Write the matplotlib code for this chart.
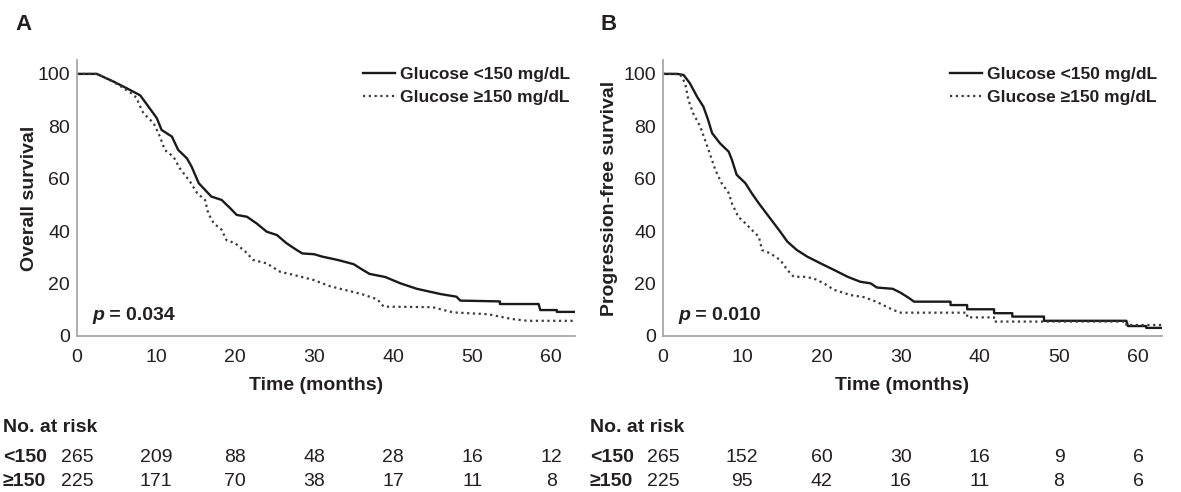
import matplotlib
matplotlib.use("Agg")
import matplotlib.pyplot as plt
from matplotlib.transforms import blended_transform_factory

plt.rcParams["font.family"] = ["Liberation Sans", "DejaVu Sans"]

INK = "#231f20"
SPINE = "#a8a8a8"

# Kaplan-Meier curve vertices (months, % surviving)
# panel A: overall survival
os_lo_t = [0, 2.5, 4.6, 6.3, 8.0, 8.8, 10.1, 10.7, 12.0, 12.8, 13.9, 14.5, 15.4,
           16.4, 17.0, 18.3, 19.4, 20.2, 21.5, 22.7, 24.0, 25.3, 26.5, 27.8, 28.5,
           30, 31, 33, 35, 36, 37, 39, 41, 42, 43, 46, 48, 48.5, 53.5, 53.5, 58.4,
           58.6, 60.7, 60.7, 63]
os_lo_s = [100, 100, 97.1, 94.5, 91.8, 88.5, 83.1, 78.6, 76.1, 71.0, 67.8, 64.6,
           58.3, 55.1, 53.2, 51.9, 48.7, 46.2, 45.5, 43.0, 39.8, 38.5, 35.4, 32.8,
           31.5, 31.2, 30.3, 29, 27.4, 25.5, 23.7, 22.5, 20, 19, 18, 16, 15, 13.5,
           13.2, 12.2, 12.2, 9.9, 9.9, 9.2, 9.2]
os_hi_t = [0, 2.5, 4.6, 6.7, 7.5, 8.0, 8.4, 9.7, 10.5, 11.1, 12.2, 13.0, 14.3, 15.2,
           16.2, 16.6, 17.3, 18.3, 18.9, 20.0, 21.3, 22.3, 24.0, 25.7, 27.4, 29.9,
           32, 34, 36, 38, 38.8, 45, 46, 47.6, 52, 55, 57, 63]
os_hi_s = [100, 100, 97, 93, 91, 87.5, 85, 81.2, 76, 71.0, 68.4, 64.0, 58.9, 54.5,
           51.9, 46.8, 43.0, 40.5, 36.6, 35.4, 32.2, 29.0, 27.7, 24.5, 23.3, 21.4,
           19, 17.5, 16, 14, 11.2, 11, 10.2, 9, 8.3, 6.5, 5.8, 5.8]

# panel B: progression-free survival
pfs_lo_t = [0, 1.8, 2.6, 3.4, 4.3, 5.1, 5.7, 6.2, 7.2, 8.3, 8.7, 9.3, 10.4, 11.2,
            12.1, 12.9, 14.0, 14.8, 15.7, 16.9, 18.2, 19.9, 21.6, 23.3, 24.9, 26.2,
            27, 29, 30, 31, 31.7, 36.3, 36.3, 38.4, 38.4, 41.8, 41.8, 44.1, 44.1,
            48.1, 48.1, 58.5, 58.7, 61, 61, 63]
pfs_lo_s = [100, 100, 99.6, 96.4, 91.3, 87.5, 82.4, 77.4, 73.5, 70.3, 67.2, 61.5,
            58.3, 54.5, 50.6, 47.4, 43.0, 39.8, 36.0, 32.8, 30.3, 27.7, 25.2, 22.6,
            20.7, 20.1, 18.5, 18, 16.5, 14.6, 13.1, 13.1, 11.8, 11.8, 10.2, 10.2,
            8.7, 8.7, 7.4, 7.4, 5.8, 5.8, 3.8, 3.8, 3.1, 3.1]
pfs_hi_t = [0, 1.5, 2.2, 2.8, 3.2, 3.8, 4.7, 5.3, 5.9, 6.6, 7.4, 8.3, 8.7, 9.5, 10.4,
            11.2, 12.1, 12.5, 13.5, 14.8, 15.7, 16.5, 17.8, 19.0, 20.3, 21.6, 23.7,
            25.4, 27, 28, 29, 30, 38.4, 38.4, 41.8, 41.8, 58.5, 58.5, 63]
pfs_hi_s = [100, 100, 99.6, 96.4, 90.1, 85.0, 79.9, 74.8, 69.7, 63.4, 58.3, 54.5,
            50.6, 45.5, 43.0, 40.5, 37.9, 32.8, 31.6, 29.0, 25.2, 22.6, 22.6, 22.0,
            20.1, 17.6, 15.6, 14.8, 13, 11.5, 10, 8.9, 8.9, 7.1, 7.1, 5.5, 5.5, 4.2,
            4.2]

risk_times = [0, 10, 20, 30, 40, 50, 60]
os_risk_lo = [265, 209, 88, 48, 28, 16, 12]
os_risk_hi = [225, 171, 70, 38, 17, 11, 8]
pfs_risk_lo = [265, 152, 60, 30, 16, 9, 6]
pfs_risk_hi = [225, 95, 42, 16, 11, 8, 6]

panels = [
    ("A", "Overall survival", os_lo_t, os_lo_s, os_hi_t, os_hi_s, "0.034",
     os_risk_lo, os_risk_hi),
    ("B", "Progression-free survival", pfs_lo_t, pfs_lo_s, pfs_hi_t, pfs_hi_s, "0.010",
     pfs_risk_lo, pfs_risk_hi),
]

fig = plt.figure(figsize=(11.81, 4.92), dpi=100)
W, H = 1181, 492
axes = [fig.add_axes([77 / W, 1 - 336 / H, 498 / W, 276 / H]),
        fig.add_axes([663 / W, 1 - 336 / H, 499 / W, 276 / H])]
letter_x = [15, 600]
row_x = [3, 590]
ylab_x = [-0.078, -0.09]

for k, (ax, p) in enumerate(zip(axes, panels)):
    letter, ylab, lo_t, lo_s, hi_t, hi_s, pval, r_lo, r_hi = p
    ax.plot(lo_t, lo_s, color="#1a1a1a", lw=1.7, label="Glucose <150 mg/dL")
    ax.plot(hi_t, hi_s, color="#3a3a3a", lw=1.6, linestyle=(0, (1, 1.6)),
            label="Glucose \u2265150 mg/dL")
    ax.set_xlim(0, 63)
    ax.set_ylim(0, 105.3)
    ax.set_xticks(risk_times)
    ax.set_yticks([0, 20, 40, 60, 80, 100])
    ax.tick_params(length=0, labelsize=14, labelcolor=INK)
    ax.tick_params(axis="x", pad=9)
    ax.tick_params(axis="y", pad=5)
    ax.spines[["top", "right"]].set_visible(False)
    for s in ("left", "bottom"):
        ax.spines[s].set_color(SPINE)
        ax.spines[s].set_linewidth(1.3)
    ax.set_ylabel(ylab, fontsize=14, fontweight="bold", color=INK)
    ax.yaxis.set_label_coords(ylab_x[k], 0.5)
    ax.set_xlabel("Time (months)", fontsize=14, fontweight="bold", color=INK)
    ax.xaxis.set_label_coords(0.48, -0.15)
    ax.legend(loc="upper right", bbox_to_anchor=(0.99, 0.975), frameon=False,
              prop={"weight": "bold", "size": 12.5}, handlelength=1.8,
              handletextpad=0.3, labelspacing=0.45, borderpad=0, borderaxespad=0,
              labelcolor=INK)
    t1 = ax.text(1.9, 8, "p", fontsize=14, fontweight="bold", fontstyle="italic",
                 color=INK, va="center", ha="left")
    ax.annotate(" = " + pval, xy=(1, 0), xycoords=t1, va="bottom", ha="left",
                fontsize=14, fontweight="bold", color=INK)

    fig.text(letter_x[k] / W, 1 - 25 / H, letter, fontsize=16, fontweight="bold",
             color=INK, va="center", ha="left")
    fig.text(row_x[k] / W, 1 - 428 / H, "No. at risk", fontsize=14,
             fontweight="bold", color=INK, va="center", ha="left")
    tr = blended_transform_factory(ax.transData, fig.transFigure)
    for y, name, vals in ((1 - 457 / H, "<150", r_lo), (1 - 482 / H, "\u2265150", r_hi)):
        fig.text(row_x[k] / W, y, name, fontsize=14, fontweight="bold", color=INK,
                 va="center", ha="left")
        for t, v in zip(risk_times, vals):
            ax.text(t, y, str(v), transform=tr, fontsize=14, color=INK,
                    va="center", ha="center")

fig.savefig("out.png", dpi=100)
